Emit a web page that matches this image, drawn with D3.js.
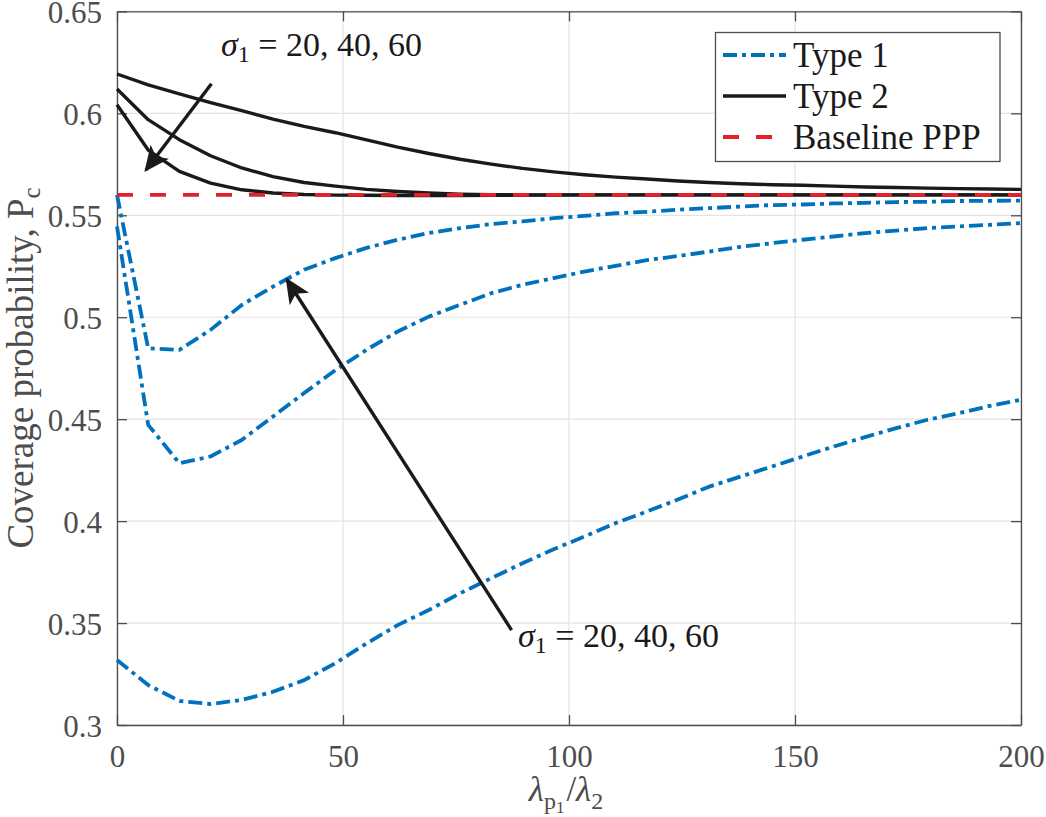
<!DOCTYPE html>
<html>
<head>
<meta charset="utf-8">
<script src="https://cdn.jsdelivr.net/npm/d3@7"></script>
<style>
  body { margin: 0; background: #fff; }
  svg { display: block; font-family: "Liberation Serif", "Times New Roman", serif; }
  .grid line { stroke: #e3e3e3; stroke-width: 1.2; }
  .tick text { fill: #4d4d4d; }
</style>
</head>
<body>
<svg id="chart" width="1046" height="817"></svg>
<script>
// lambda_p1 / lambda_2 sample points
var ratio = [0, 6.9, 13.8, 20.7, 27.6, 34.5, 41.4, 48.3, 55.2, 62.1, 69, 75.9, 82.8, 89.7, 96.6,
             103.4, 110.3, 117.2, 124.1, 131, 137.9, 144.8, 151.7, 158.6, 165.5, 172.4, 179.3, 186.2, 193.1, 200];

// Type 1, sigma_1 = 20, 40, 60
var type1S20 = [0.560, 0.4848, 0.4840, 0.4938, 0.5060, 0.5150, 0.5233, 0.5290, 0.5340, 0.5380, 0.5413, 0.5437, 0.5457, 0.5470, 0.5486,
                0.5497, 0.5510, 0.5517, 0.5527, 0.5535, 0.5543, 0.5550, 0.5553, 0.5558, 0.5561, 0.5565, 0.5566, 0.5570, 0.5571, 0.5572];
var type1S40 = [0.5445, 0.4472, 0.4284, 0.4317, 0.4398, 0.4513, 0.4628, 0.4740, 0.4840, 0.4930, 0.5003, 0.5061, 0.5118, 0.5159, 0.5192,
                0.5224, 0.5252, 0.5280, 0.5300, 0.5322, 0.5345, 0.5363, 0.5380, 0.5396, 0.5413, 0.5425, 0.5437, 0.5445, 0.5453, 0.5462];
var type1S60 = [0.3319, 0.3196, 0.3118, 0.3103, 0.3123, 0.3163, 0.3220, 0.3303, 0.3400, 0.3490, 0.3564, 0.3646, 0.3720, 0.3793, 0.3862,
                0.3924, 0.3990, 0.4047, 0.4106, 0.4169, 0.4218, 0.4267, 0.4317, 0.4366, 0.4412, 0.4456, 0.4497, 0.4529, 0.4565, 0.4595];

// Type 2, sigma_1 = 20, 40, 60
var type2S20 = [0.6042, 0.5820, 0.5715, 0.5658, 0.5625, 0.5609, 0.5602, 0.5599, 0.5598, 0.5597, 0.5597, 0.5597, 0.5598, 0.5599, 0.5599,
                0.5600, 0.5600, 0.5600, 0.5600, 0.5600, 0.5600, 0.5600, 0.5600, 0.5600, 0.5600, 0.5600, 0.5600, 0.5600, 0.5600, 0.5600];
var type2S40 = [0.6119, 0.5969, 0.5871, 0.5792, 0.5732, 0.5690, 0.5661, 0.5643, 0.5627, 0.5617, 0.5609, 0.5604, 0.5601, 0.5600, 0.5600,
                0.5600, 0.5600, 0.5600, 0.5600, 0.5600, 0.5600, 0.5600, 0.5600, 0.5600, 0.5600, 0.5600, 0.5600, 0.5600, 0.5600, 0.5600];
var type2S60 = [0.6193, 0.6140, 0.6096, 0.6053, 0.6013, 0.5972, 0.5936, 0.5905, 0.5870, 0.5834, 0.5803, 0.5775, 0.5751, 0.5730, 0.5713,
                0.5699, 0.5687, 0.5678, 0.5668, 0.5661, 0.5655, 0.5650, 0.5647, 0.5643, 0.5639, 0.5636, 0.5633, 0.5631, 0.5629, 0.5627];

// Baseline PPP
var baselineX = [0, 200];
var baselineY = [0.56, 0.56];

var xTicks = [0, 50, 100, 150, 200];
var yTicks = [0.3, 0.35, 0.4, 0.45, 0.5, 0.55, 0.6, 0.65];

var legendNames = ["Type 1", "Type 2", "Baseline PPP"];

var blue = "#0072bd", black = "#1a1a1a", red = "#e4202a";
var dashDot = "14,5,4,5", dashed = "16,17";

var svg = d3.select("#chart");
var pLeft = 117, pRight = 1021, pTop = 11.4, pBottom = 725;

var x = d3.scaleLinear().domain([0, 200]).range([pLeft, pRight]);
var y = d3.scaleLinear().domain([0.3, 0.65]).range([pBottom, pTop]);

// grid
var grid = svg.append("g").attr("class", "grid");
grid.selectAll("line.vx").data(xTicks).enter().append("line").attr("class", "vx")
  .attr("x1", function(d) { return x(d); }).attr("x2", function(d) { return x(d); })
  .attr("y1", pTop).attr("y2", pBottom);
grid.selectAll("line.hy").data(yTicks).enter().append("line").attr("class", "hy")
  .attr("x1", pLeft).attr("x2", pRight)
  .attr("y1", function(d) { return y(d); }).attr("y2", function(d) { return y(d); });

// axes
var xAxis = svg.append("g").attr("transform", "translate(0," + pBottom + ")")
  .call(d3.axisBottom(x).tickValues(xTicks).tickSizeInner(-10).tickSizeOuter(0).tickPadding(20)
    .tickFormat(d3.format("d")));
var yAxis = svg.append("g").attr("transform", "translate(" + pLeft + ",0)")
  .call(d3.axisLeft(y).tickValues(yTicks).tickSizeInner(-10).tickSizeOuter(0).tickPadding(15)
    .tickFormat(function(d) { return String(+d.toFixed(2)); }));
var xTop = svg.append("g").attr("transform", "translate(0," + pTop + ")")
  .call(d3.axisTop(x).tickValues(xTicks).tickSizeInner(-10).tickSizeOuter(0).tickFormat(""));
var yRight = svg.append("g").attr("transform", "translate(" + pRight + ",0)")
  .call(d3.axisRight(y).tickValues(yTicks).tickSizeInner(-10).tickSizeOuter(0).tickFormat(""));

[xAxis, yAxis, xTop, yRight].forEach(function(a) {
  a.attr("font-family", null);
  a.select(".domain").attr("stroke", "#4d4d4d").attr("stroke-width", 1.3);
  a.selectAll(".tick line").attr("stroke", "#4d4d4d").attr("stroke-width", 1.3);
  a.selectAll(".tick text").attr("font-size", 31).attr("font-family", "Liberation Serif");
});
xAxis.selectAll(".tick text").attr("dy", "0.71em");
yAxis.selectAll(".tick text").attr("dy", "0.36em");

// curves
var line = d3.line()
  .x(function(d) { return x(d[0]); })
  .y(function(d) { return y(d[1]); });

function pairs(xs, ys) { return xs.map(function(v, i) { return [v, ys[i]]; }); }

var series = [
  { xs: ratio, ys: type1S20, color: blue, width: 3.8, dash: dashDot },
  { xs: ratio, ys: type1S40, color: blue, width: 3.8, dash: dashDot },
  { xs: ratio, ys: type1S60, color: blue, width: 3.8, dash: dashDot },
  { xs: ratio, ys: type2S20, color: black, width: 3.4, dash: null },
  { xs: ratio, ys: type2S40, color: black, width: 3.4, dash: null },
  { xs: ratio, ys: type2S60, color: black, width: 3.4, dash: null },
  { xs: baselineX, ys: baselineY, color: red, width: 3.8, dash: dashed }
];

svg.append("g").selectAll("path").data(series).enter().append("path")
  .attr("d", function(d) { return line(pairs(d.xs, d.ys)); })
  .attr("fill", "none")
  .attr("stroke", function(d) { return d.color; })
  .attr("stroke-width", function(d) { return d.width; })
  .attr("stroke-dasharray", function(d) { return d.dash; })
  .attr("stroke-linejoin", "round");

// arrows
var defs = svg.append("defs");
defs.append("marker").attr("id", "head")
  .attr("viewBox", "0 0 10 10").attr("refX", 9).attr("refY", 5)
  .attr("markerWidth", 7.5).attr("markerHeight", 7.5).attr("markerUnits", "strokeWidth")
  .attr("orient", "auto")
  .append("path").attr("d", "M0,0.5 L10,5 L0,9.5 L2.5,5 Z").attr("fill", black);

// arrow endpoints in data units
var arrows = [
  { from: [20.9, 0.6145], to: [6.4, 0.5722] },
  { from: [87.3, 0.3465], to: [37.6, 0.5184] }
];
svg.append("g").selectAll("line").data(arrows).enter().append("line")
  .attr("x1", function(d) { return x(d.from[0]); }).attr("y1", function(d) { return y(d.from[1]); })
  .attr("x2", function(d) { return x(d.to[0]); }).attr("y2", function(d) { return y(d.to[1]); })
  .attr("stroke", black).attr("stroke-width", 3.4)
  .attr("marker-end", "url(#head)");

// annotations
function sigmaLabel(px, py) {
  var t = svg.append("text").attr("x", px).attr("y", py)
    .attr("font-size", 34).attr("fill", black);
  t.append("tspan").attr("font-style", "italic").text("σ");
  t.append("tspan").attr("font-size", 24).attr("dy", 6).text("1");
  t.append("tspan").attr("dy", -6).text(" = 20, 40, 60");
}
sigmaLabel(x(23), y(0.6279));
sigmaLabel(x(88.7), y(0.3384));

// axis labels
var xl = svg.append("text").attr("x", 566).attr("y", 801)
  .attr("text-anchor", "middle").attr("font-size", 35).attr("fill", "#4d4d4d");
xl.append("tspan").attr("font-style", "italic").text("λ");
xl.append("tspan").attr("font-size", 24).attr("dy", 8).text("p");
xl.append("tspan").attr("font-size", 17).attr("dy", 4).text("1");
xl.append("tspan").attr("dy", -12).attr("dx", 2).text("/");
xl.append("tspan").attr("font-style", "italic").text("λ");
xl.append("tspan").attr("font-size", 24).attr("dy", 8).text("2");

var yl = svg.append("text").attr("transform", "translate(33,368) rotate(-90)")
  .attr("text-anchor", "middle").attr("font-size", 37).attr("fill", "#4d4d4d");
yl.append("tspan").text("Coverage probability, P");
yl.append("tspan").attr("font-size", 25).attr("dy", 7).text("c");

// legend
var lg = svg.append("g");
lg.append("rect").attr("x", 715.5).attr("y", 32.5).attr("width", 284.5).attr("height", 129)
  .attr("fill", "#fff").attr("stroke", "#4d4d4d").attr("stroke-width", 1.3);
var legendStyle = [series[0], series[3], series[6]];
var legendY = [55, 96, 137];
legendNames.forEach(function(name, i) {
  var s = legendStyle[i];
  lg.append("line").attr("x1", 723).attr("x2", 786)
    .attr("y1", legendY[i]).attr("y2", legendY[i])
    .attr("stroke", s.color).attr("stroke-width", s.width)
    .attr("stroke-dasharray", s.dash);
  lg.append("text").attr("x", 793).attr("y", legendY[i]).attr("dy", "0.34em")
    .attr("font-size", 35).attr("fill", black).text(name);
});
</script>
</body>
</html>
